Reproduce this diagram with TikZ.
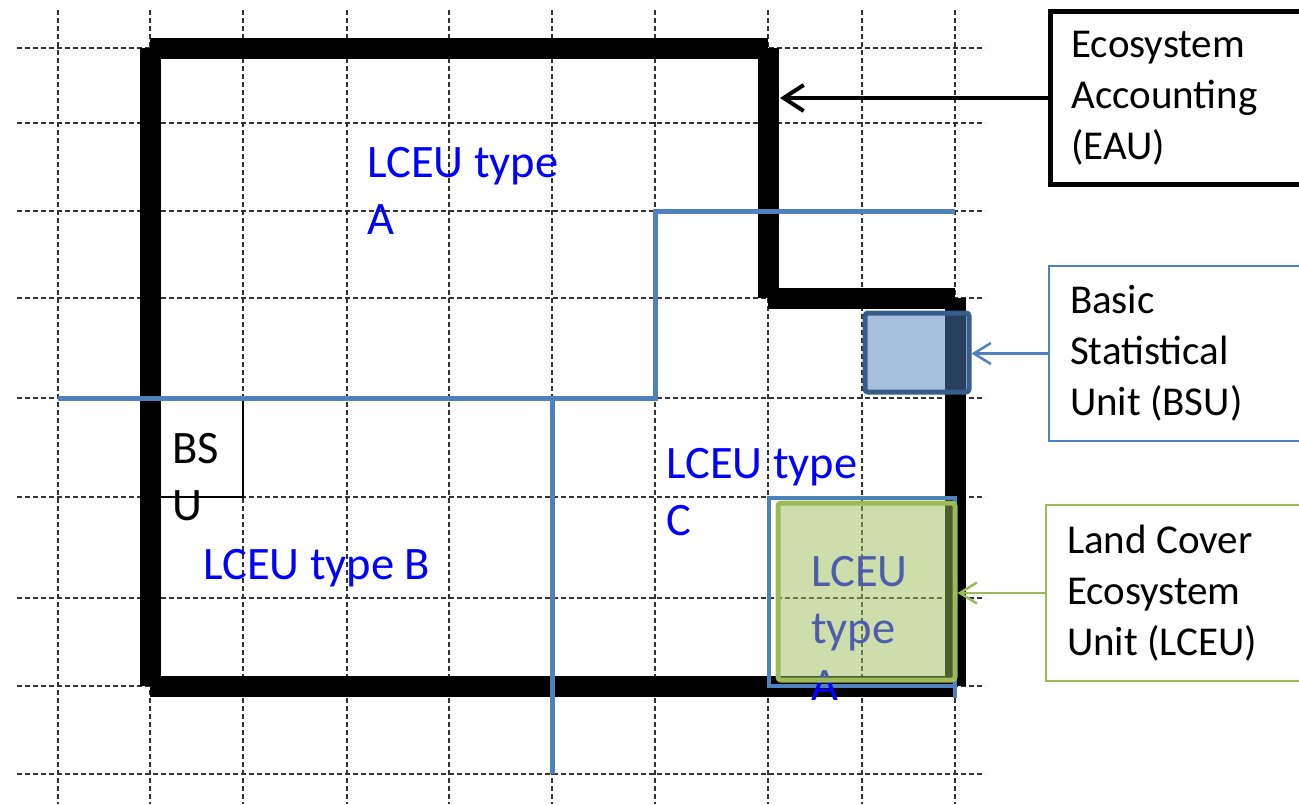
\documentclass[tikz,border=0pt]{standalone}
\usepackage{fontspec}
\setmainfont{Carlito}
\usetikzlibrary{arrows.meta}
\definecolor{accblue}{HTML}{4F81BD}
\definecolor{accbluedark}{HTML}{385D8A}
\definecolor{accgreen}{HTML}{9BBB59}
\definecolor{labelblue}{HTML}{0000FF}
\begin{document}
\begin{tikzpicture}[x=1pt,y=-1pt,
  gridline/.style={black!80,line width=1.3pt,dash pattern=on 5pt off 3pt},
  wall/.style={line width=21pt,line cap=butt},
  zoneline/.style={accblue,line width=5pt},
  lbl/.style={labelblue,font=\fontsize{46.5}{57}\selectfont,inner sep=0pt,align=left,anchor=base west},
  infobox/.style={rectangle,draw,anchor=north west,minimum width=262pt,minimum height=173pt,
     text width=220pt,align=left,inner xsep=21pt,inner ysep=4pt,font=\fontsize{41}{51}\selectfont},
  pointer/.style={-{Straight Barb[length=17pt,width=21pt]},line width=2.5pt},
]
\useasboundingbox (0,0) rectangle (1299,804);
\clip (0,0) rectangle (1299,804);
% grid
\foreach \gx in {58,150,243,347,449,552,655,768,862,955}
  \draw[gridline] (\gx,10) -- (\gx,804);
\foreach \gy in {48,123,211,298,398,497,598,686,774}
  \draw[gridline] (17,\gy) -- (985,\gy);
% ecosystem accounting unit outline
\draw[wall] (150,48) -- (768,48);
\draw[wall] (768,48) -- (768,298);
\draw[wall] (768,298) -- (955,298);
\draw[wall] (955,298) -- (955,686);
\draw[wall] (955,686) -- (150,686);
\draw[wall] (150,686) -- (150,48);
% small BSU box
\draw[line width=2pt] (150,398) rectangle (243,497);
% zone boundaries
\draw[zoneline] (58,398) -- (655,398) -- (655,211) -- (955,211);
\draw[zoneline] (552,398) -- (552,774);
\draw[zoneline,line width=4.5pt] (955,698) -- (955,498) -- (769,498) -- (769,686) -- (955,686);
% labels (base = last line)
\node[lbl] (la) at (367,234) {LCEU type\\A};
\node[lbl] (lb) at (203,579) {LCEU type B};
\node[lbl] (lc) at (666,535) {LCEU type\\C};
\node[lbl] (ld) at (811,700) {LCEU\\type\\A};
\node[lbl,text=black] (bsl) at (172,520) {BS\\U};
% highlighted squares
\node[rectangle,draw=accgreen,line width=5pt,fill=accgreen,fill opacity=0.5,draw opacity=1,
      rounded corners=3pt,minimum width=177pt,minimum height=177pt] (lceusq) at (866.5,591.5) {};
\node[rectangle,draw=accbluedark,line width=5pt,fill=accblue,fill opacity=0.5,draw opacity=1,
      rounded corners=3pt,minimum width=104pt,minimum height=79pt] (bsusq) at (917,352.5) {};
% legend boxes
\node[infobox,line width=5pt] (eau) at (1048,9) {\spaceskip=0pt\relax Ecosystem\\Accounting\\(EAU)};
\node[infobox,draw=accblue,line width=2pt,minimum height=175pt] (bsu) at (1048,265) {\spaceskip=0pt\relax Basic\\Statistical\\Unit (BSU)};
\node[infobox,draw=accgreen,line width=2pt,minimum height=176pt,inner xsep=20pt] (lceu) at (1045,504) {\spaceskip=0pt\relax Land Cover\\Ecosystem\\Unit (LCEU)};
% pointers
\coordinate (eautip) at (780,0);
\draw[-{Straight Barb[length=20pt,width=26pt]},line width=4pt] (eau.west) -- (eau.west -| eautip);
\draw[pointer,accblue] (bsu.west) -- (bsu.west -| bsusq.east);
\draw[pointer,accgreen] (lceu.west) -- (lceu.west -| lceusq.east);
\end{tikzpicture}
\end{document}
